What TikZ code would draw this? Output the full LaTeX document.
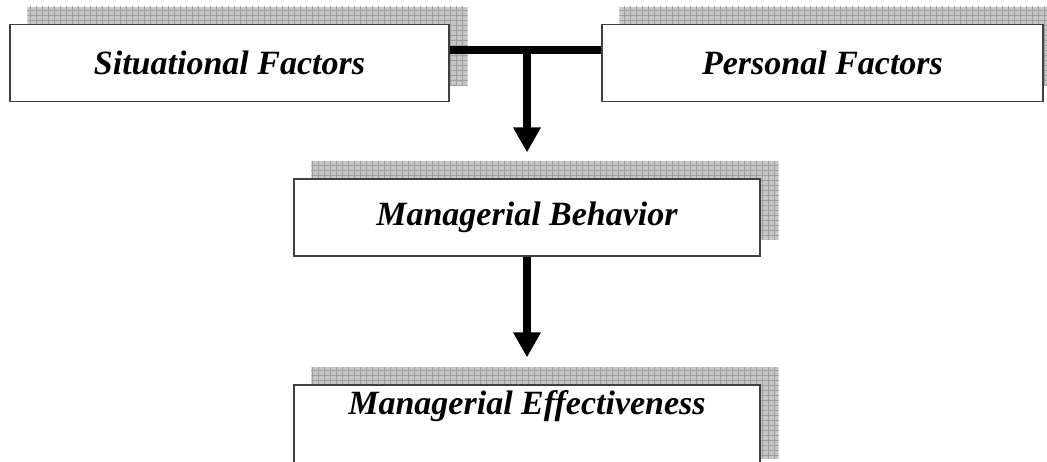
\documentclass[tikz,border=0pt]{standalone}
\usepackage{fontspec}
\setmainfont{Liberation Serif}
\usetikzlibrary{arrows.meta,backgrounds}
\newcommand\myshadow[1]{%
  \begin{scope}
    \clip ([shift={(18pt,17pt)}]#1.south west) rectangle ([shift={(18pt,17pt)}]#1.north east);
    \fill[shadowfill] ([shift={(18pt,17pt)}]#1.south west) rectangle ([shift={(18pt,17pt)}]#1.north east);
    \draw[shadowgrid] ([shift={(12pt,11pt)}]#1.south west) grid ([shift={(24pt,23pt)}]#1.north east);
  \end{scope}}
\begin{document}
\begin{tikzpicture}[x=1pt,y=-1pt,
  box/.style={draw=black!75, line width=1.2pt, fill=white, minimum width=#1, minimum height=77pt, inner sep=0pt},
  lab/.style={font=\fontsize{34}{40}\selectfont\bfseries\itshape},
  shadowfill/.style={fill=gray!45},
  shadowgrid/.style={draw=gray!75, line width=0.5pt, xstep=6pt, ystep=5pt},
  conn/.style={line width=8.5pt},
  arr/.style={line width=8.5pt, -{Triangle[width=26pt,length=25pt]}},
]
\useasboundingbox (0,0) rectangle (1047,461);
\node[box=439pt, lab] (sit) at (229.5,63) {Situational Factors};
\node[box=441pt, lab] (pers) at (822.5,63) {Personal Factors};
\node[box=466pt, lab] (mb) at (527,217.5) {Managerial Behavior};
\node[box=466pt, minimum height=90pt] (me) at (527,430) {};
\node[lab] (mel) at (527,406) {Managerial Effectiveness};
\begin{pgfonlayer}{background}
  \myshadow{sit}
  \myshadow{pers}
  \myshadow{mb}
  \myshadow{me}
\end{pgfonlayer}
\coordinate (j) at (527,50);
\draw[conn] (sit.east |- j) -- (pers.west |- j);
\draw[arr] (j) -- ([yshift=26pt]mb.north);
\draw[arr] (mb.south) -- ([yshift=27pt]me.north);
\end{tikzpicture}
\end{document}
